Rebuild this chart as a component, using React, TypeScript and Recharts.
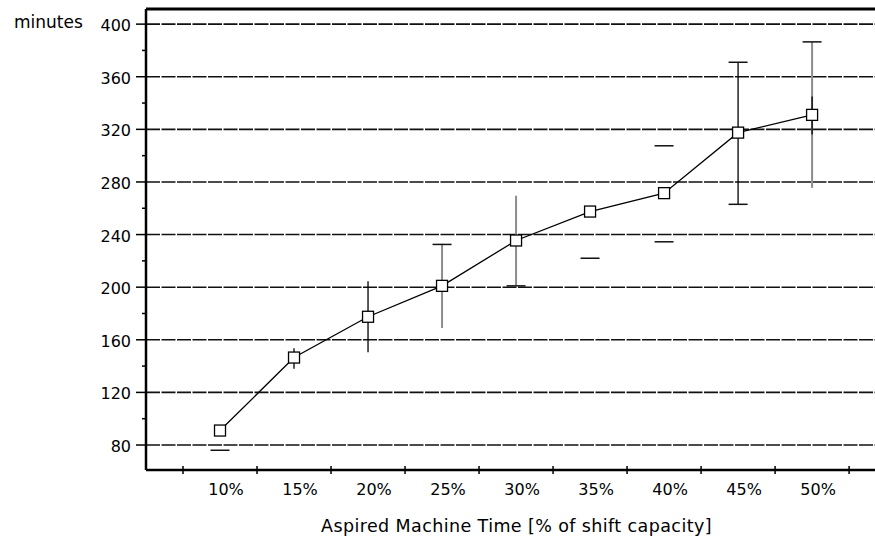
import { ComposedChart, Line, Scatter, XAxis, YAxis, ErrorBar, ReferenceLine } from 'recharts'

const CATEGORIES = ['10%', '15%', '20%', '25%', '30%', '35%', '40%', '45%', '50%']
const MINUTES = [91, 146.5, 177.5, 201, 235.5, 257.5, 271.5, 317.5, 331]
// whiskers as [below, above]
const WHISKER_DARK = [[0, 0], [8.5, 7], [27, 27], [0, 0], [0, 0], [0, 0], [0, 0], [54.5, 53.5], [15, 14]]
const WHISKER_GREY = [[0, 0], [0, 0], [0, 0], [32, 32], [34, 34], [0, 0], [0, 0], [0, 0], [55.5, 55.5]]
// loose cap marks (category position, value)
const CAP_POS = [1, 4, 5, 6, 7, 7, 8, 8, 9]
const CAP_VALUES = [76, 232.5, 201, 222, 307.5, 234.5, 371, 263, 386.5]

const Y_TICKS = [80, 100, 120, 140, 160, 180, 200, 220, 240, 260, 280, 300, 320, 340, 360, 380, 400]
const Y_LABELED = [80, 120, 160, 200, 240, 280, 320, 360, 400]
const X_TICKS = [0.5, 1, 1.5, 2, 2.5, 3, 3.5, 4, 4.5, 5, 5.5, 6, 6.5, 7, 7.5, 8, 8.5, 9, 9.5]
const X_DOMAIN = [0, 9.85]
const Y_DOMAIN = [61, 411.5]

const FONT = '"DejaVu Sans", sans-serif'

const rows = CATEGORIES.map((c, i) => ({
  x: i + 1,
  name: c,
  y: MINUTES[i],
  dark: WHISKER_DARK[i],
  grey: WHISKER_GREY[i],
}))

const capRows = CAP_POS.map((p, i) => ({ x: p, y: CAP_VALUES[i] }))

function YTick(props: any) {
  const { x, y, payload } = props
  const major = Y_LABELED.includes(payload.value)
  return (
    <g>
      <line x1={x - (major ? 10 : 4)} x2={x} y1={y} y2={y} stroke="#000" strokeWidth={1.5} />
      {major && (
        <text x={x - 15} y={y} dy={7} textAnchor="end" fontSize={16} fontFamily={FONT} fill="#000">
          {payload.value}
        </text>
      )}
    </g>
  )
}

function XTick(props: any) {
  const { x, y, payload } = props
  const v = payload.value
  if (Number.isInteger(v)) {
    return (
      <text x={x} y={y} dx={6} dy={24.5} textAnchor="middle" fontSize={16} fontFamily={FONT} fill="#000">
        {CATEGORIES[v - 1]}
      </text>
    )
  }
  return <line x1={x} x2={x} y1={y - 4} y2={y + 4} stroke="#000" strokeWidth={1.5} />
}

function SquareDot(props: any) {
  const { cx, cy, index } = props
  return <rect key={index} x={cx - 5.5} y={cy - 5.5} width={11} height={11} fill="#fff" stroke="#000" strokeWidth={1.3} />
}

function CapMark(props: any) {
  const { cx, cy } = props
  return <line x1={cx - 9.5} x2={cx + 9.5} y1={cy} y2={cy} stroke="#111" strokeWidth={1.5} />
}

export default function App() {
  return (
    <div style={{ position: 'absolute', left: 0, top: 0, width: 875, height: 540, background: '#fff' }}>
      <ComposedChart width={875} height={540} data={rows} margin={{ top: 9, right: 0, bottom: 0, left: 0 }}>
        <XAxis
          dataKey="x"
          type="number"
          domain={X_DOMAIN}
          ticks={X_TICKS}
          interval={0}
          allowDataOverflow
          tickSize={0}
          tickMargin={0}
          tickLine={false}
          axisLine={{ stroke: '#000', strokeWidth: 2.5 }}
          tick={XTick}
          height={70}
          label={({ viewBox }: any) => (
            <text
              x={viewBox.x + viewBox.width / 2 + 6}
              y={viewBox.y + 62}
              textAnchor="middle"
              fontSize={17.5}
              letterSpacing={0.4}
              fontFamily={FONT}
              fill="#000"
            >
              Aspired Machine Time [% of shift capacity]
            </text>
          )}
        />
        <YAxis
          type="number"
          domain={Y_DOMAIN}
          ticks={Y_TICKS}
          interval={0}
          allowDataOverflow
          width={146}
          tickSize={0}
          tickMargin={0}
          tickLine={false}
          axisLine={{ stroke: '#000', strokeWidth: 2.5 }}
          tick={YTick}
          label={({ viewBox }: any) => (
            <text x={viewBox.x + 14} y={viewBox.y + 19} fontSize={17} fontFamily={FONT} fill="#000">
              minutes
            </text>
          )}
        />
        {Y_LABELED.map((v) => (
          <ReferenceLine key={v} y={v} stroke="#111" strokeWidth={1.6} strokeDasharray="14 1.5" />
        ))}
        <ReferenceLine y={Y_DOMAIN[1]} stroke="#000" strokeWidth={3} />
        <Scatter data={capRows} dataKey="y" shape={CapMark} isAnimationActive={false} />
        <Line
          dataKey="y"
          stroke="#000"
          strokeWidth={1.3}
          dot={SquareDot}
          activeDot={false}
          isAnimationActive={false}
        >
          <ErrorBar dataKey="grey" direction="y" width={0} stroke="#8c8c8c" strokeWidth={2} isAnimationActive={false} />
          <ErrorBar dataKey="dark" direction="y" width={0} stroke="#000" strokeWidth={1.3} isAnimationActive={false} />
        </Line>
      </ComposedChart>
    </div>
  )
}
